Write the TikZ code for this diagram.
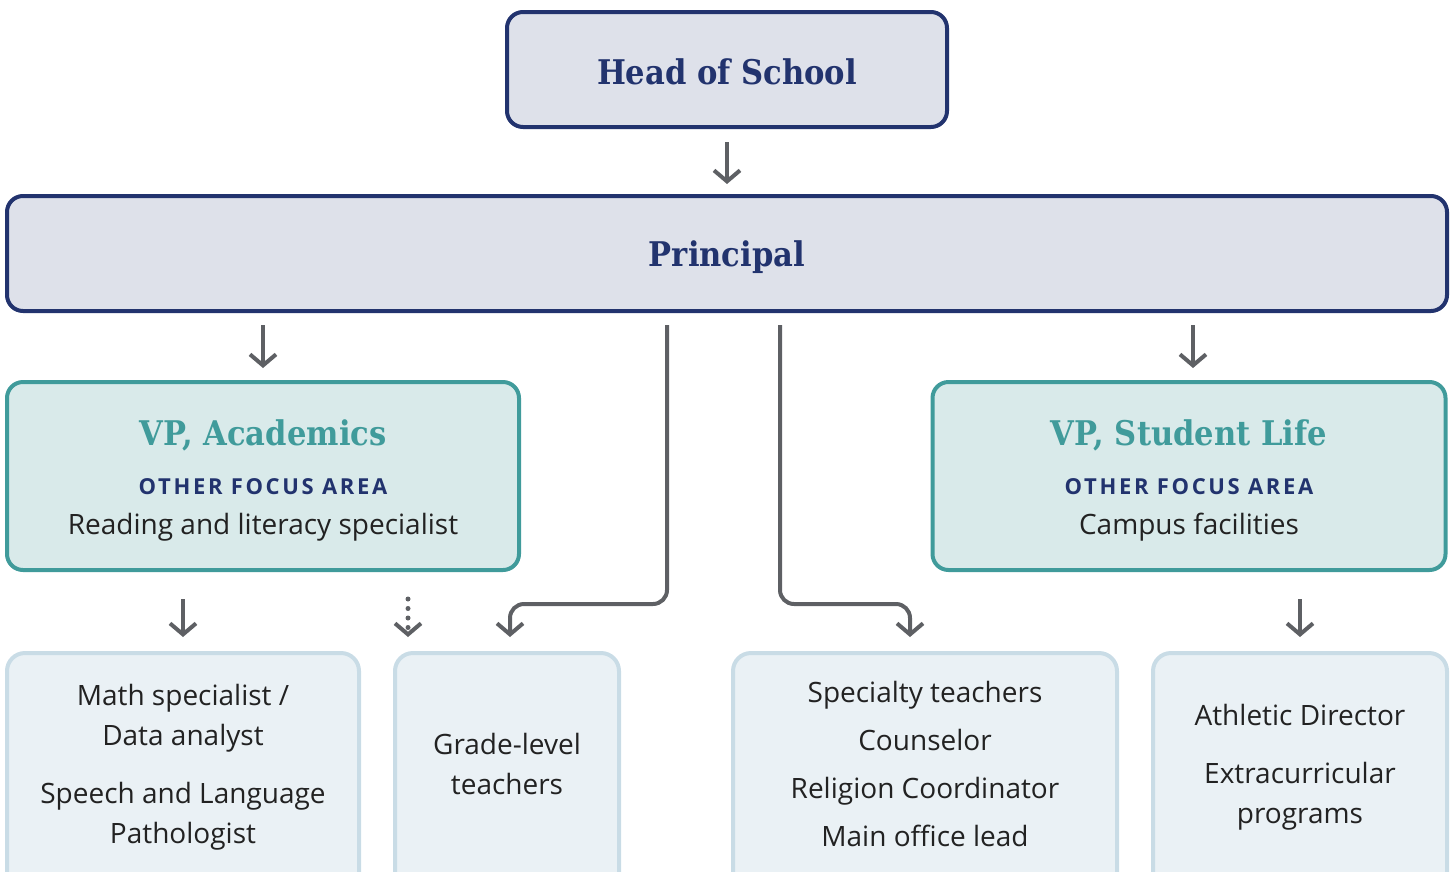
\documentclass[tikz,border=0pt]{standalone}
\usepackage{fontspec}
\setmainfont{Open Sans}
\newfontfamily\headfont[FakeStretch=0.9]{DejaVu Serif}
\newfontfamily\capsfont[LetterSpace=12]{Open Sans}
\usetikzlibrary{arrows.meta}
\definecolor{navy}{HTML}{22336E}
\definecolor{navyfill}{HTML}{DEE1EA}
\definecolor{teal}{HTML}{409B9B}
\definecolor{tealfill}{HTML}{D9EAEA}
\definecolor{lightb}{HTML}{C9DCE6}
\definecolor{lightfill}{HTML}{EAF1F5}
\definecolor{arrgrey}{HTML}{5E6064}
\definecolor{txt}{HTML}{222222}
\tikzset{
  topbox/.style={draw=navy, fill=navyfill, line width=4pt, rounded corners=16pt, inner sep=0pt},
  vpbox/.style={draw=teal, fill=tealfill, line width=4pt, rounded corners=16pt, inner sep=0pt},
  lowbox/.style={draw=lightb, fill=lightfill, line width=4pt, rounded corners=18pt, inner sep=0pt},
  headtxt/.style={font=\headfont\bfseries\fontsize{34}{40}\selectfont, text=navy, inner sep=0pt},
  vptxt/.style={font=\headfont\bfseries\fontsize{34}{40}\selectfont, text=teal, inner sep=0pt},
  capstxt/.style={font=\capsfont\bfseries\fontsize{22}{26}\selectfont, text=navy, inner sep=0pt},
  bodytxt/.style={font=\fontsize{28}{40}\selectfont, text=txt, inner sep=0pt, align=center},
  arr/.style={draw=arrgrey, line width=4pt, -{Straight Barb[length=11pt,width=26pt,line width=4pt]}},
  dotarr/.style={arr, dash pattern=on 0pt off 9.5pt, line cap=round, line width=5pt},
}
\begin{document}
\begin{tikzpicture}[x=1pt,y=-1pt]
\useasboundingbox (0,0) rectangle (1453,871);
\clip (0,0) rectangle (1453,871);
% boxes
\node[topbox, minimum width=440pt, minimum height=115pt] (head) at (727,69.5) {};
\node[headtxt] (headt) at (727,72) {Head of School};
\node[topbox, minimum width=1440pt, minimum height=115pt] (principal) at (727,253.5) {};
\node[headtxt] (princt) at (727,257) {Principal};
\node[vpbox, minimum width=512pt, minimum height=188pt] (vpa) at (263,476) {};
\node[vptxt] (vpat) at (263,435) {VP, Academics};
\node[capstxt] (vpac) at (263,487) {OTHER FOCUS AREA};
\node[bodytxt] (vpab) at (263,527) {Reading and literacy specialist};
\node[vpbox, minimum width=513pt, minimum height=188pt] (vps) at (1189,476) {};
\node[vptxt] (vpst) at (1189,435) {VP, Student Life};
\node[capstxt] (vpsc) at (1189,487) {OTHER FOCUS AREA};
\node[bodytxt] (vpsb) at (1189,527) {Campus facilities};
% low boxes (cut off at bottom)
\node[lowbox, minimum width=352pt, minimum height=300pt, anchor=north] (b1) at (183,651) {};
\node[lowbox, minimum width=224pt, minimum height=300pt, anchor=north] (b2) at (507,651) {};
\node[lowbox, minimum width=384pt, minimum height=300pt, anchor=north] (b3) at (925,651) {};
\node[lowbox, minimum width=294pt, minimum height=300pt, anchor=north] (b4) at (1300,651) {};
\node[bodytxt] (b1t) at (183,767) {Math specialist /\\Data analyst\\[18pt]Speech and Language\\Pathologist};
\node[bodytxt] (b2t) at (507,764) {Grade-level\\teachers};
\node[bodytxt, font=\fontsize{28}{48}\selectfont] (b3t) at (925,764) {Specialty teachers\\Counselor\\Religion Coordinator\\Main office lead};
\node[bodytxt] (b4t) at (1300,767) {Athletic Director\\[18pt]Extracurricular\\programs};
% connectors
\coordinate (dotx) at (408,0);
\draw[arr, shorten <=13pt, shorten >=10pt] (head.south) -- (principal.north);
\draw[arr, shorten <=12pt, shorten >=12pt] (principal.south -| vpa.north) -- (vpa.north);
\draw[arr, shorten <=12pt, shorten >=12pt] ([xshift=4pt]principal.south -| vps.north) -- ([xshift=4pt]vps.north);
\draw[arr, shorten <=27pt, shorten >=14pt] (vpa.south -| b1.north) -- (b1.north);
\draw[dotarr, shorten <=27pt, shorten >=14pt] (vpa.south -| dotx) -- (b2.north -| dotx);
\draw[arr, shorten <=27pt, shorten >=14pt] (vps.south -| b4.north) -- (b4.north);
\draw[arr, rounded corners=14pt, shorten <=12pt, shorten >=14pt] ([xshift=-60pt]principal.south) |- ([xshift=3pt,yshift=47pt]b2.north) -- ([xshift=3pt]b2.north);
\draw[arr, rounded corners=14pt, shorten <=12pt, shorten >=14pt] ([xshift=53pt]principal.south) |- ([xshift=-15pt,yshift=47pt]b3.north) -- ([xshift=-15pt]b3.north);
\end{tikzpicture}
\end{document}
